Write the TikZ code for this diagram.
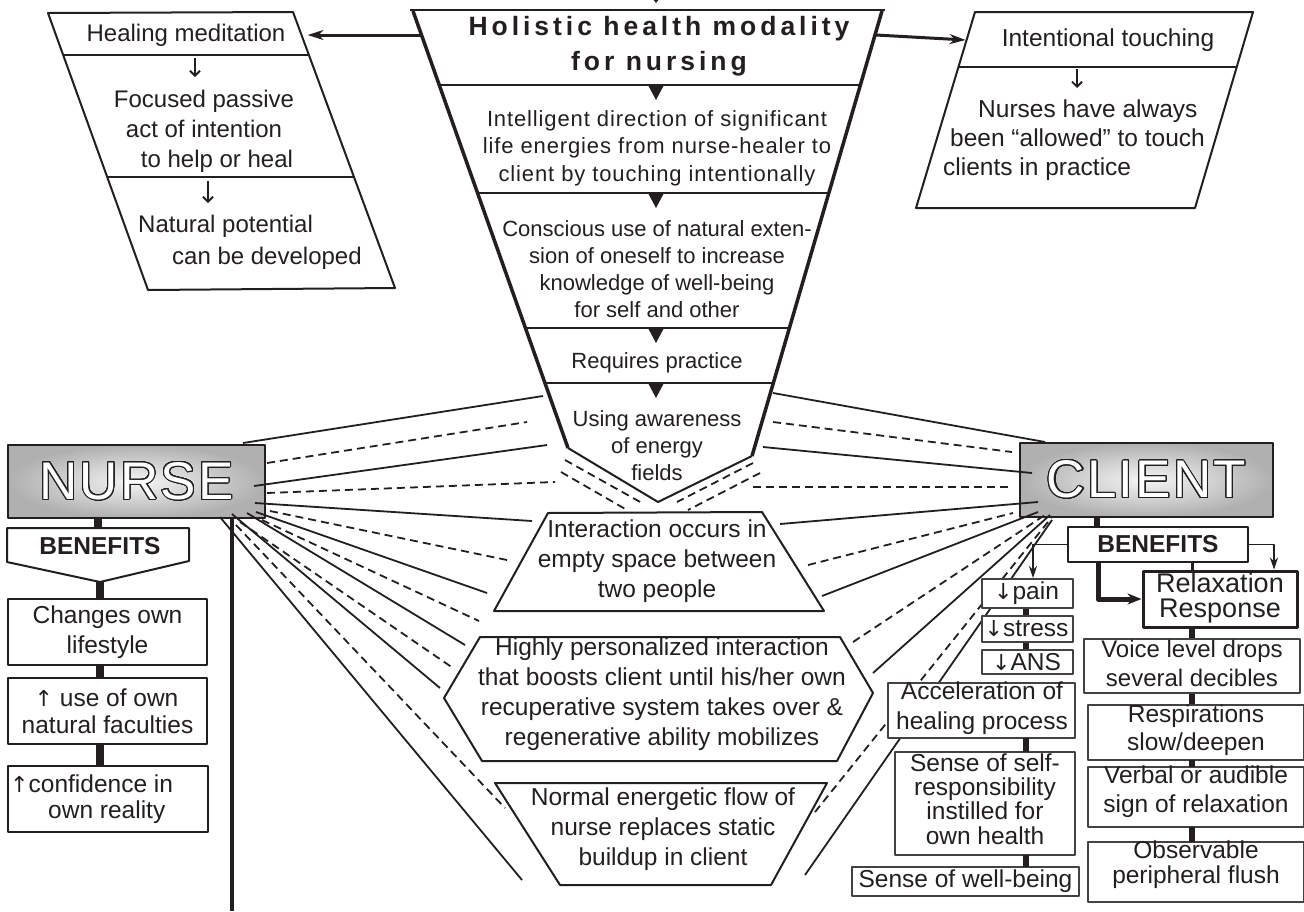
\documentclass[tikz,border=0pt]{standalone}
\usepackage{fontspec}
\setmainfont{Liberation Sans}
\newfontfamily\arrowfont[Scale=0.9]{DejaVu Sans}
\usetikzlibrary{arrows.meta,calc}
\definecolor{ink}{HTML}{231F20}
\newcommand\whitetext[1]{\textcolor{white}{#1}}
\newcommand\contourblack[1]{\contour{ink}{\textcolor{white}{#1}}}
\newcommand\outlinedtext{\whitetext}
\IfFileExists{contour.sty}{\usepackage{contour}\contourlength{1.1pt}\contournumber{32}\renewcommand\outlinedtext{\contourblack}}{}
\newcommand\fz[2]{\fontsize{#1}{#2}\selectfont}
\newcommand\dnar{{\kern-2pt\arrowfont ↓}}
\newcommand\upar{{\kern-2pt\arrowfont ↑}}
\begin{document}
\begin{tikzpicture}[x=1pt,y=-1pt,line join=round,
  txt/.style={text=ink,align=center,inner sep=0pt,font=\fz{24.5}{30}},
  ftxt/.style={txt,font=\fz{22}{27}},
  shp/.style={draw=ink,line width=2pt,fill=white},
  bx/.style={draw=ink!85,line width=1.6pt,fill=white,inner sep=0pt},
  nbx/.style={draw=ink,line width=2.2pt,fill=white,inner sep=0pt},
  sol/.style={draw=ink,line width=1.8pt},
  dsh/.style={sol,dash pattern=on 8pt off 5pt},
  nbar/.style={draw=ink,line width=8pt},
  cbar/.style={draw=ink,line width=6pt},
  bigarrow/.style={draw=ink,line width=3pt,-{Stealth[length=16pt,width=10pt]}},
  smallarrow/.style={draw=ink,line width=1.8pt,-{Stealth[length=12pt,width=8pt]}},
  thickarrow/.style={draw=ink,line width=5pt,-{Stealth[length=14pt,width=11pt]}},
  tinyarrow/.style={draw=ink,line width=1.8pt,-{Straight Barb[length=5pt,width=10pt]}},
  person/.style={draw=ink,line width=2.5pt,shade,inner color=gray!8,outer color=gray!62,
     inner sep=0pt,font={\fz{53}{53}\addfontfeature{LetterSpace=4}}}]
\useasboundingbox (0,0) rectangle (1304,911);
\fill[white] (0,0) rectangle (1304,911);

% ---------- NURSE and CLIENT ----------
\node[person,minimum width=257pt,minimum height=73pt] (nurse) at (136.5,481.5) {\outlinedtext{NURSE}};
\node[person,minimum width=253pt,minimum height=74pt] (client) at (1146.5,480) {\outlinedtext{CLIENT}};

% ---------- fan of connectors ----------
\foreach \a/\b/\c/\d/\s in {243/443/543/396/sol, 267/463/527/422/dsh, 254/486/547/445/sol,
   267/493/555/482/dsh, 255/503/532/521/sol, 270/511/507/560/dsh, 256/512/487/593/sol,
   262/520/479/621/dsh, 247/513/465/645/sol, 240/522/453/668/dsh, 232/514/440/688/sol,
   236/525/505/808/dsh, 220/517/522/880/sol}
  \draw[\s] (\a,\b) -- (\c,\d);
\foreach \a/\b/\c/\d/\s in {773/393/1045/442/sol, 773/422/1012/452/dsh, 763/447/1032/473/sol,
   753/487/1012/487/dsh, 780/524/1038/502/sol, 808/565/1013/513/dsh, 822/596/1038/512/sol,
   853/642/1045/515/dsh, 873/673/1050/515/sol, 815/812/1052/517/dsh, 805/875/1052/520/sol}
  \draw[\s] (\a,\b) -- (\c,\d);
\draw[dsh] (565,460) -- (642,503);
\draw[dsh] (561,472) -- (627,510);
\draw[dsh] (753,463) -- (677,502);
\draw[dsh] (760,473) -- (688,510);

% nurse long vertical line
\draw[draw=ink,line width=4pt] (232,518) -- (232,911);

% ---------- funnel ----------
\fill[ink] (649,-6) -- (663,-6) -- (656,3) -- cycle;
\fill[white] (412,10) -- (883,10) -- (752,456) -- (658,502) -- (568,448) -- cycle;
\begin{scope}
  \clip (412,10) -- (883,10) -- (752,456) -- (658,502) -- (568,448) -- cycle;
  \foreach \y in {85,193,328,383} {
    \draw[ink,line width=1.8pt] (400,\y) -- (900,\y);
    \fill[ink] (648,\y) -- (664,\y) -- (656,\y+15) -- cycle;}
\end{scope}
\draw[ink,line width=1.8pt] (410,10) -- (885,10);
\draw[ink,line width=3.5pt] (413,11) -- (568,448);
\draw[ink,line width=3.5pt] (882,11) -- (752,456);
\draw[ink,line width=2pt] (568,448) -- (658,502) -- (752,456);

\node[txt,font={\bfseries\fz{26.5}{35}\addfontfeature{LetterSpace=15}}] (title) at (659,46)
  {Holistic health modality\\for nursing};
\node[ftxt,font={\fz{22}{27.5}\addfontfeature{LetterSpace=4}}] (intel) at (657,148)
  {Intelligent direction of significant\\life energies from nurse-healer to\\client by touching intentionally};
\node[ftxt] (consc) at (657,269) {Conscious use of natural exten-\\sion of oneself to increase\\knowledge of well-being\\for self and other};
\node[ftxt] (req) at (657,363) {Requires practice};
\node[ftxt] (using) at (657,446) {Using awareness\\of energy\\fields};

% ---------- left parallelogram ----------
\draw[shp] (48,13) -- (293,12) -- (395,288) -- (148,290) -- cycle;
\begin{scope}
  \clip (48,13) -- (293,12) -- (395,288) -- (148,290) -- cycle;
  \draw[ink,line width=1.8pt] (0,55) -- (420,55);
  \draw[ink,line width=1.8pt] (0,177) -- (420,177);
\end{scope}
\node[txt,font=\fz{24}{30}] (hm) at (186,35) {Healing meditation};
\node[txt,font=\fz{24}{30}] (fp) at (204,131) {Focused passive\\act of intention\\\hspace*{26pt}to help or heal};
\node[txt,font=\fz{24}{32},align=left,anchor=west] (np) at (138,242) {Natural potential\\\hspace*{34pt}can be developed};
\draw[tinyarrow] (195,58) -- (195,77);
\draw[tinyarrow] (208,181) -- (208,203);

% ---------- right parallelogram ----------
\draw[shp] (975,12) -- (1253,12) -- (1195,208) -- (916,208) -- cycle;
\begin{scope}
  \clip (975,12) -- (1253,12) -- (1195,208) -- (916,208) -- cycle;
  \draw[ink,line width=1.8pt] (900,67) -- (1280,67);
\end{scope}
\node[txt] (it) at (1108,40) {Intentional touching};
\node[txt,font=\fz{24.5}{29},align=left,anchor=west] (nh) at (943,140)
  {\hspace*{35pt}Nurses have always\\\hspace*{7pt}been “allowed” to touch\\clients in practice};
\draw[tinyarrow] (1077,69) -- (1077,88);

% main arrows
\draw[bigarrow] (421,35) -- ($(hm.east)+(22,0)$);
\draw[bigarrow] (876,35) -- ($(it.west)+(-36,0)$);

% ---------- middle shapes ----------
\draw[shp] (548,513) -- (762,512) -- (824,611) -- (494,611) -- cycle;
\node[txt] (inter) at (657,561) {Interaction occurs in\\empty space between\\two people};
\draw[shp] (480,637) -- (840,637) -- (873,693) -- (837,761) -- (482,761) -- (444,698) -- cycle;
\node[txt] (high) at (662,694) {Highly personalized interaction\\that boosts client until his/her own\\recuperative system takes over \&\\regenerative ability mobilizes};
\draw[shp] (495,783) -- (827,783) -- (771,885) -- (560,885) -- cycle;
\node[txt] (norm) at (663,829) {Normal energetic flow of\\nurse replaces static\\buildup in client};

% ---------- nurse benefits ----------
\draw[shp] (7,528) -- (189,528) -- (189,561) -- (100,582) -- (7,562) -- cycle;
\node[txt,font={\bfseries\fz{24.5}{30}}] (nben) at (100,546) {BENEFITS};
\node[nbx,minimum width=199pt,minimum height=66pt] (nb1) at (107.5,632) {};
\node[txt] at (nb1.center) {Changes own\\lifestyle};
\node[nbx,minimum width=199pt,minimum height=66pt] (nb2) at (107.5,711) {};
\node[txt,font=\fz{24.5}{27}] at (nb2.center) {\upar\ use of own\\natural faculties};
\node[nbx,minimum width=200pt,minimum height=66pt] (nb3) at (108,799) {};
\node[txt,font=\fz{24.5}{26},align=left,anchor=west] at (12,799) {\upar confidence in\\\hspace*{36pt}own reality};
\draw[nbar] (98,518) -- (98,528.5);
\draw[nbar] (100,582) -- ($(nb1.north)+(-7.5,0)$);
\draw[nbar] ($(nb1.south)+(-7.5,0)$) -- ($(nb2.north)+(-7.5,0)$);
\draw[nbar] ($(nb2.south)+(-7.5,0)$) -- ($(nb3.north)+(-8,0)$);

% ---------- client benefits ----------
\draw[cbar] (1097,517) -- (1097,527.5);
\node[draw=ink,line width=2.5pt,fill=white,minimum width=180pt,minimum height=35pt,inner sep=0pt,
      font={\bfseries\fz{24.5}{30}},text=ink] (cben) at (1158,544.5) {BENEFITS};
\node[draw=ink,line width=3pt,fill=white,minimum width=154pt,minimum height=56pt,inner sep=0pt] (relax) at (1220,599) {};
\node[txt,font=\fz{27}{25}] at (1220,598) {Relaxation\\Response};
\draw[smallarrow] (cben.west) -| (1033,578);
\draw[smallarrow] (cben.east) -| ($(relax.north)+(54,0)$);
\draw[thickarrow] ($(cben.south)+(-60,0)$) |- (relax.west);
\draw[draw=ink,line width=3pt] ($(cben.south)+(34,0)$) -- ($(relax.north)+(-28,0)$);

% left column
\node[bx,minimum width=91pt,minimum height=29pt] (pain) at (1027.5,593.5) {};
\node[txt] at (1027.5,593) {\dnar pain};
\node[bx,minimum width=91pt,minimum height=26pt] (stress) at (1027.5,629) {};
\node[txt] at (1027.5,629) {\dnar stress};
\node[bx,minimum width=91pt,minimum height=24pt] (ans) at (1027.5,662) {};
\node[txt] at (1027.5,662) {\dnar ANS};
\node[bx,minimum width=187pt,minimum height=55pt] (accel) at (981.5,710.5) {};
\node[txt] at (982,708) {Acceleration of\\healing process};
\node[bx,minimum width=180pt,minimum height=103pt] (self) at (985,803.5) {};
\node[txt,font=\fz{24.5}{24.3}] at (985,799) {Sense of self-\\responsibility\\instilled for\\own health};
\node[bx,minimum width=227pt,minimum height=29pt] (well) at (965.5,881.5) {};
\node[txt] at (965.5,881) {Sense of well-being};
\draw[cbar] ($(pain.south)+(-1.5,0)$) -- ($(stress.north)+(-1.5,0)$);
\draw[cbar] ($(stress.south)+(-1.5,0)$) -- ($(ans.north)+(-1.5,0)$);
\draw[cbar] ($(ans.south)+(-1.5,0)$) -- ($(ans.south)+(-1.5,0)$ |- accel.north);
\draw[cbar] (1026,738) -- (1026,752);
\draw[cbar] (1026,855) -- (1026,867);

% right column
\node[bx,minimum width=216pt,minimum height=54pt] (voice) at (1192,666) {};
\node[txt,font=\fz{24}{29}] at (1192,663.5) {Voice level drops\\several decibles};
\node[bx,minimum width=216pt,minimum height=55pt] (resp) at (1196,732.5) {};
\node[txt,font=\fz{24.5}{28}] at (1196,730.5) {Respirations\\slow/deepen};
\node[bx,minimum width=216pt,minimum height=60pt] (verbal) at (1196,797) {};
\node[txt,font=\fz{24.5}{29}] at (1196,792) {Verbal or audible\\sign of relaxation};
\node[bx,minimum width=216pt,minimum height=60pt] (obs) at (1196,872) {};
\node[txt,font=\fz{24.5}{25}] at (1196,865) {Observable\\peripheral flush};
\draw[cbar] (voice.north |- relax.south) -- (voice.north);
\draw[cbar] (voice.south) -- (voice.south |- resp.north);
\draw[cbar] (1192,760) -- (1192,767);
\draw[cbar] (1192,827) -- (1192,842);
\end{tikzpicture}
\end{document}
